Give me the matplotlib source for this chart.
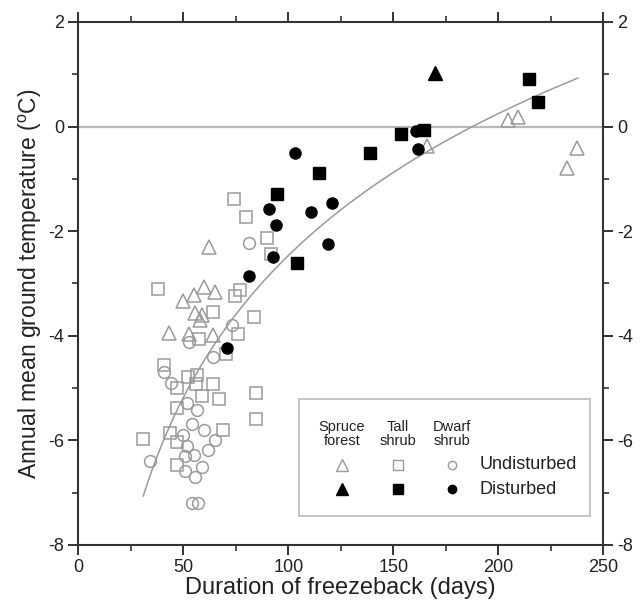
import numpy as np
import matplotlib
matplotlib.use("Agg")
import matplotlib.pyplot as plt
from matplotlib.patches import Rectangle
from matplotlib.ticker import MultipleLocator

plt.rcParams['font.family'] = ['Liberation Sans', 'DejaVu Sans']
plt.rcParams['axes.unicode_minus'] = False

# duration of freezeback (days), annual mean ground temperature (C)
spruce_undist_x = [204.9, 209.3, 166.3, 237.7, 232.8, 62.1, 59.8, 65.1, 55.2, 49.7,
                   55.5, 58.7, 57.9, 43.0, 52.7, 64.0]
spruce_undist_y = [0.12, 0.18, -0.37, -0.41, -0.80, -2.30, -3.07, -3.16, -3.22, -3.33,
                   -3.57, -3.60, -3.70, -3.95, -3.97, -3.99]

tall_undist_x = [74.0, 80.0, 89.8, 91.9, 76.8, 74.6, 37.9, 64.3, 83.8, 76.0,
                 57.4, 70.2, 40.9, 52.4, 56.3, 56.0, 47.1, 64.0, 58.7, 67.0,
                 84.6, 84.6, 46.8, 43.6, 46.8, 69.0, 30.6, 46.8]
tall_undist_y = [-1.38, -1.72, -2.14, -2.44, -3.12, -3.24, -3.10, -3.55, -3.64, -3.97,
                 -4.06, -4.34, -4.55, -4.78, -4.75, -4.92, -5.00, -4.92, -5.16, -5.21,
                 -5.10, -5.60, -5.39, -5.85, -6.03, -5.80, -5.98, -6.48]

dwarf_undist_x = [81.1, 73.0, 52.8, 64.0, 40.9, 43.9, 51.9, 56.7, 54.1, 59.8,
                  49.8, 51.9, 65.1, 61.9, 55.1, 50.8, 59.0, 50.8, 55.5, 34.1,
                  53.9, 57.1]
dwarf_undist_y = [-2.23, -3.80, -4.12, -4.40, -4.69, -4.91, -5.29, -5.41, -5.69, -5.80,
                  -5.90, -6.11, -6.00, -6.19, -6.28, -6.30, -6.50, -6.58, -6.70, -6.39,
                  -7.20, -7.20]

spruce_dist_x = [169.9]
spruce_dist_y = [1.03]

tall_dist_x = [214.9, 218.9, 153.7, 164.8, 138.8, 114.8, 94.8, 104.0]
tall_dist_y = [0.90, 0.47, -0.15, -0.06, -0.51, -0.88, -1.28, -2.60]

dwarf_dist_x = [103.0, 160.9, 162.0, 90.8, 94.1, 110.8, 121.0, 118.9, 92.9, 81.1, 70.6]
dwarf_dist_y = [-0.51, -0.09, -0.43, -1.58, -1.88, -1.63, -1.46, -2.25, -2.50, -2.85, -4.23]

# logarithmic fit drawn in the figure: T = a + b*ln(days)
fit_a = -20.49
fit_b = 3.914
fit_range = (30.9, 237.9)

grey = '#9a9a9a'
dark = '#222222'

fig = plt.figure(figsize=(6.43, 6.10), dpi=100)
ax = fig.add_axes([0.122, 0.1066, 0.816, 0.8574])

ax.axhline(0, color='#b8b8b8', lw=1.6, zorder=1)

fx = np.linspace(fit_range[0], fit_range[1], 200)
ax.plot(fx, fit_a + fit_b * np.log(fx), color=grey, lw=1.1, zorder=2)

ax.plot(tall_undist_x, tall_undist_y, 's', ms=9, mfc='none', mec=grey, mew=1.1, zorder=3)
ax.plot(dwarf_undist_x, dwarf_undist_y, 'o', ms=8.5, mfc='none', mec=grey, mew=1.1, zorder=3)
ax.plot(spruce_undist_x, spruce_undist_y, '^', ms=10.5, mfc='none', mec=grey, mew=1.1, zorder=3)
ax.plot(dwarf_dist_x, dwarf_dist_y, 'o', ms=8, color='black', zorder=4)
ax.plot(tall_dist_x, tall_dist_y, 's', ms=8, color='black', zorder=4)
ax.plot(spruce_dist_x, spruce_dist_y, '^', ms=9.5, color='black', zorder=4)

ax.set_xlim(0, 250)
ax.set_ylim(-8, 2)
ax.xaxis.set_major_locator(MultipleLocator(50))
ax.xaxis.set_minor_locator(MultipleLocator(25))
ax.yaxis.set_major_locator(MultipleLocator(2))
ax.yaxis.set_minor_locator(MultipleLocator(1))
ax.tick_params(which='both', direction='out', top=True, right=True,
               labelright=True, color='#333333', labelsize=13, labelcolor=dark)
ax.tick_params(which='major', length=7, width=1.4, pad=3)
ax.tick_params(which='minor', length=4, width=1.2)
for s in ax.spines.values():
    s.set_linewidth(1.5)
    s.set_color('#333333')

ax.set_xlabel('Duration of freezeback (days)', fontsize=17, color=dark, labelpad=1)
ax.set_ylabel(r'Annual mean ground temperature ($^\mathregular{o}$C)', fontsize=16.5,
              color=dark, labelpad=3)

# legend box
tr = ax.transAxes
ax.add_patch(Rectangle((0.420, 0.055), 0.555, 0.224, transform=tr, fill=False,
                       ec='#bbbbbb', lw=1.2, zorder=5))
headers = ['Spruce\nforest', 'Tall\nshrub', 'Dwarf\nshrub']
hx = [0.502, 0.609, 0.712]
for h, x in zip(headers, hx):
    ax.text(x, 0.212, h, transform=tr, ha='center', va='center', fontsize=10.5,
            linespacing=0.95, color=dark, zorder=6)
ax.plot(hx[0], 0.153, '^', ms=8.5, mfc='none', mec=grey, mew=1.0, transform=tr, zorder=6)
ax.plot(hx[1], 0.153, 's', ms=7, mfc='none', mec=grey, mew=1.0, transform=tr, zorder=6)
ax.plot(hx[2], 0.153, 'o', ms=6, mfc='none', mec=grey, mew=1.0, transform=tr, zorder=6)
ax.plot(hx[0], 0.107, '^', ms=8, color='black', transform=tr, zorder=6)
ax.plot(hx[1], 0.107, 's', ms=6.5, color='black', transform=tr, zorder=6)
ax.plot(hx[2], 0.107, 'o', ms=6, color='black', transform=tr, zorder=6)
ax.text(0.764, 0.153, 'Undisturbed', transform=tr, ha='left', va='center',
        fontsize=13, color=dark, zorder=6)
ax.text(0.764, 0.107, 'Disturbed', transform=tr, ha='left', va='center',
        fontsize=13, color=dark, zorder=6)

fig.savefig('out.png', dpi=100)
